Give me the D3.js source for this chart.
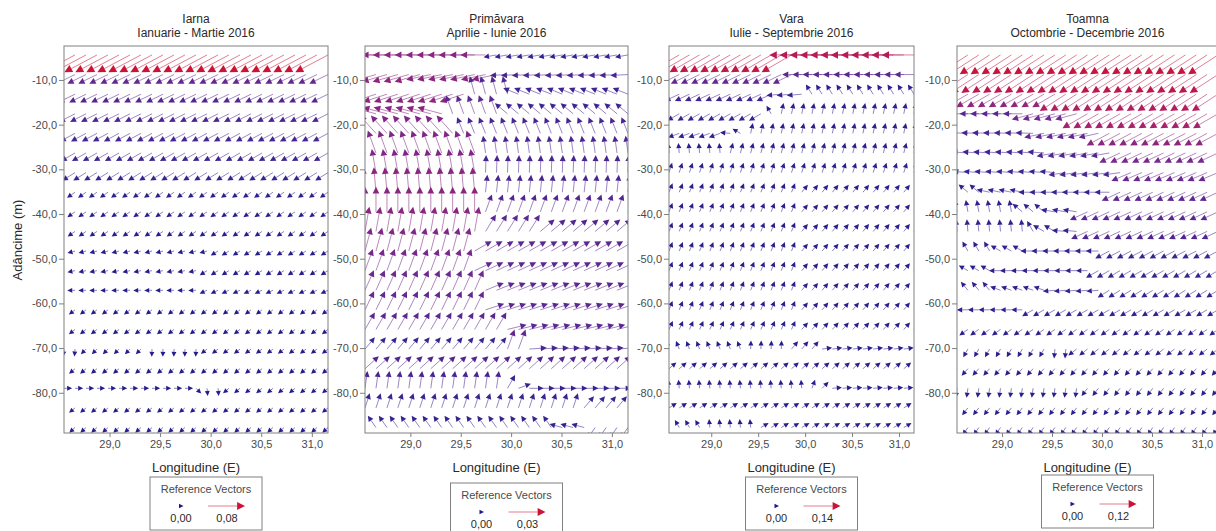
<!DOCTYPE html>
<html><head><meta charset="utf-8">
<script src="https://cdn.jsdelivr.net/npm/d3@7"></script>
<style>html,body{margin:0;padding:0;background:#fff}svg{display:block}text{font-family:"Liberation Sans",Arial,sans-serif}</style>
</head><body>
<svg id="chart" width="1216" height="531"></svg>
<script>
// ---------- DATA ----------
const lons = [28.550,28.659,28.768,28.876,28.985,29.094,29.203,29.311,29.420,29.529,29.638,29.746,29.855,29.964,30.073,30.181,30.290,30.399,30.508,30.616,30.725,30.834,30.943,31.051,31.160];
const depths = [-4.40,-8.79,-13.18,-17.57,-21.95,-26.34,-30.73,-35.12,-39.51,-43.89,-48.28,-52.67,-57.06,-61.44,-65.83,-70.22,-74.61,-79.00,-83.38,-87.77];
const yTickValues = [-10,-20,-30,-40,-50,-60,-70,-80];
const xTickValues = [29.0,29.5,30.0,30.5,31.0];
const seasonNames = ["Iarna","Primăvara","Vara","Toamna"];
const periodLabels = ["Ianuarie - Martie 2016","Aprilie - Iunie 2016","Iulie - Septembrie 2016","Octombrie - Decembrie 2016"];
const refMagnitudes = [0.08,0.03,0.14,0.12];

// each row (top to bottom): runs of [columns, direction (deg, 0=E, 90=N), speed]
const iarnaRuns = [
  [[25,208,0.080]],
  [[25,206,0.040]],
  [[25,206,0.035]],
  [[25,207,0.033]],
  [[25,208,0.031]],
  [[25,210,0.029]],
  [[25,212,0.026]],
  [[25,215,0.013]],
  [[25,215,0.012]],
  [[25,215,0.011]],
  [[14,195,0.008],[11,212,0.010]],
  [[13,192,0.008],[12,212,0.010]],
  [[13,182,0.008],[12,205,0.009]],
  [[25,218,0.008]],
  [[25,218,0.008]],
  [[2,265,0.007],[6,225,0.007],[5,268,0.008],[12,218,0.008]],
  [[25,220,0.008]],
  [[12,0,0.009],[1,315,0.007],[2,275,0.008],[10,220,0.008]],
  [[25,220,0.008]],
  [[25,222,0.008]]
];
const primavaraRuns = [
  [[12,180,0.019],[13,190,0.008]],
  [[6,196,0.020],[7,192,0.019],[12,183,0.012]],
  [[10,198,0.019],[4,105,0.013],[11,158,0.011]],
  [[8,165,0.019],[5,110,0.014],[12,140,0.011]],
  [[9,132,0.018],[16,112,0.012]],
  [[11,110,0.018],[14,98,0.012]],
  [[11,100,0.018],[14,88,0.012]],
  [[11,95,0.019],[14,84,0.012]],
  [[11,90,0.019],[14,70,0.013]],
  [[11,80,0.019],[5,58,0.014],[9,40,0.013]],
  [[10,75,0.018],[15,30,0.014]],
  [[10,70,0.017],[15,25,0.014]],
  [[11,66,0.016],[14,22,0.014]],
  [[11,64,0.015],[14,18,0.014]],
  [[13,60,0.014],[12,14,0.014]],
  [[13,50,0.010],[2,70,0.015],[10,4,0.012]],
  [[25,42,0.013]],
  [[13,82,0.012],[1,60,0.010],[1,20,0.008],[10,0,0.009]],
  [[20,72,0.010],[5,50,0.010]],
  [[18,125,0.009],[3,165,0.008],[4,235,0.008]]
];
const varaRuns = [
  [[13,210,0.130],[12,180,0.120]],
  [[13,206,0.070],[12,180,0.065]],
  [[11,205,0.050],[3,185,0.045],[11,122,0.030]],
  [[10,210,0.040],[1,120,0.020],[14,78,0.028]],
  [[6,200,0.032],[1,175,0.025],[1,150,0.020],[17,78,0.026]],
  [[6,95,0.024],[19,75,0.026]],
  [[25,72,0.025]],
  [[13,68,0.022],[12,50,0.022]],
  [[13,68,0.022],[12,50,0.022]],
  [[13,68,0.022],[12,50,0.022]],
  [[13,68,0.022],[12,50,0.022]],
  [[13,68,0.022],[12,50,0.022]],
  [[13,68,0.022],[12,50,0.022]],
  [[13,68,0.022],[12,50,0.022]],
  [[13,66,0.021],[12,48,0.021]],
  [[8,112,0.018],[4,88,0.018],[3,50,0.025],[10,8,0.024]],
  [[25,40,0.022]],
  [[14,95,0.018],[1,70,0.020],[1,45,0.020],[9,5,0.022]],
  [[25,32,0.020]],
  [[4,120,0.018],[5,95,0.017],[16,30,0.019]]
];
const toamnaRuns = [
  [[25,213,0.115]],
  [[25,213,0.108]],
  [[10,210,0.080],[15,213,0.098]],
  [[7,180,0.055],[5,195,0.065],[13,210,0.090]],
  [[8,178,0.048],[6,192,0.058],[11,208,0.078]],
  [[9,176,0.044],[6,190,0.052],[10,205,0.068]],
  [[10,175,0.040],[6,188,0.048],[9,203,0.062]],
  [[3,140,0.028],[4,168,0.032],[8,180,0.038],[10,205,0.058]],
  [[6,100,0.028],[3,140,0.030],[3,170,0.035],[13,205,0.055]],
  [[7,95,0.028],[1,120,0.028],[2,150,0.030],[2,175,0.035],[13,205,0.050]],
  [[4,120,0.024],[3,150,0.025],[7,180,0.030],[11,208,0.042]],
  [[4,150,0.022],[9,180,0.026],[12,210,0.036]],
  [[4,130,0.024],[5,160,0.024],[5,185,0.028],[11,212,0.034]],
  [[7,180,0.024],[18,210,0.030]],
  [[25,215,0.022]],
  [[9,240,0.018],[2,265,0.018],[14,218,0.022]],
  [[25,228,0.018]],
  [[12,262,0.019],[13,232,0.019]],
  [[25,232,0.018]],
  [[25,236,0.018]]
];
const seasonRuns = [iarnaRuns, primavaraRuns, varaRuns, toamnaRuns];

// ---------- LAYOUT ----------
const layout = [
  {left:64,  right:328,  legendTop:477},
  {left:365, right:628,  legendTop:483},
  {left:669, right:914,  legendTop:477},
  {left:957, right:1218, legendTop:475}
];
const frameTop = 46, frameBottom = 433;
const lonDomain = [28.55, 31.16];
const depthDomain = [-2.4, -89.0];
const fmt1 = v => v.toFixed(1).replace('.', ',');
const fmt2 = v => v.toFixed(2).replace('.', ',');
const colorScale = d3.scaleLinear()
  .domain([0, 0.35, 0.55, 0.75, 1])
  .range(["#1c1a8a", "#3b2491", "#72298f", "#a6226c", "#cc1236"])
  .clamp(true);
const lenScale = d3.scaleLinear().domain([0,1]).range([4.5,37]).clamp(true);

const svg = d3.select("#chart");

function expandRuns(runs) {
  const out = [];
  runs.forEach(([n, dir, sp]) => { for (let i = 0; i < n; i++) out.push({dir, sp}); });
  return out.slice(0, lons.length);
}

function drawArrow(g, x0, y0, dirDeg, frac) {
  const L = lenScale(frac);
  const a = dirDeg * Math.PI / 180;
  const ux = Math.cos(a), uy = -Math.sin(a);
  const hx = x0 + ux * L, hy = y0 + uy * L;
  const hl = Math.min(L, 4.2 + 0.1 * L);
  const hw = hl * 0.5;
  const bx = hx - ux * hl, by = hy - uy * hl;
  const px = -uy, py = ux;
  const col = colorScale(frac);
  if (L - hl > 0.3) {
    g.append("line").attr("x1", x0).attr("y1", y0).attr("x2", bx).attr("y2", by)
      .attr("stroke", col).attr("stroke-opacity", 0.55).attr("stroke-width", 1);
  }
  g.append("path")
    .attr("d", `M${hx},${hy}L${bx + px*hw},${by + py*hw}L${bx - px*hw},${by - py*hw}Z`)
    .attr("fill", col);
}

layout.forEach((lay, p) => {
  const x = d3.scaleLinear().domain(lonDomain).range([lay.left, lay.right]);
  const y = d3.scaleLinear().domain(depthDomain).range([frameTop, frameBottom]);
  const g = svg.append("g");
  const ref = refMagnitudes[p];

  const clipId = "clip" + p;
  svg.append("clipPath").attr("id", clipId).append("rect")
    .attr("x", lay.left).attr("y", frameTop)
    .attr("width", lay.right - lay.left).attr("height", frameBottom - frameTop);

  const vg = g.append("g").attr("clip-path", `url(#${clipId})`);
  seasonRuns[p].forEach((runs, r) => {
    const row = expandRuns(runs);
    row.forEach((v, c) => {
      drawArrow(vg, x(lons[c]), y(depths[r]), v.dir, v.sp / ref);
    });
  });

  // frame
  g.append("rect").attr("x", lay.left).attr("y", frameTop)
    .attr("width", lay.right - lay.left).attr("height", frameBottom - frameTop)
    .attr("fill", "none").attr("stroke", "#808080").attr("stroke-width", 1);

  // y axis
  const yAxis = d3.axisLeft(y).tickValues(yTickValues).tickFormat(fmt1).tickSize(5).tickPadding(2);
  const ya = g.append("g").attr("transform", `translate(${lay.left},0)`).call(yAxis);
  ya.select(".domain").remove();
  ya.selectAll("line").attr("stroke", "#808080");
  ya.selectAll("text").attr("fill", "#4a4a4a").style("font-size", "11px").style("font-family", '"Liberation Sans",Arial,sans-serif');

  // x axis
  const xAxis = d3.axisBottom(x).tickValues(xTickValues).tickFormat(fmt1).tickSize(4).tickPadding(3);
  const xa = g.append("g").attr("transform", `translate(0,${frameBottom})`).call(xAxis);
  xa.select(".domain").remove();
  xa.selectAll("line").attr("stroke", "#808080");
  xa.selectAll("text").attr("fill", "#4a4a4a").style("font-size", "11px").style("font-family", '"Liberation Sans",Arial,sans-serif');

  const cx = (lay.left + lay.right) / 2;
  // titles
  g.append("text").attr("x", cx).attr("y", 23).attr("text-anchor", "middle")
    .style("font-size", "12px").attr("fill", "#2a2a2a").text(seasonNames[p]);
  g.append("text").attr("x", cx).attr("y", 37).attr("text-anchor", "middle")
    .style("font-size", "12px").attr("fill", "#2a2a2a").text(periodLabels[p]);

  // x title
  g.append("text").attr("x", cx).attr("y", 472).attr("text-anchor", "middle")
    .style("font-size", "13px").attr("fill", "#2a2a2a").text("Longitudine (E)");

  // legend
  const bl = cx - 46, bt = lay.legendTop, bw = 112, bh = 53;
  const lg = g.append("g");
  lg.append("rect").attr("x", bl).attr("y", bt).attr("width", bw).attr("height", bh)
    .attr("fill", "#fff").attr("stroke", "#808080").attr("stroke-width", 1);
  lg.append("text").attr("x", bl + bw/2).attr("y", bt + 16).attr("text-anchor", "middle")
    .style("font-size", "11px").attr("fill", "#4a4a4a").text("Reference Vectors");
  drawArrow(lg, bl + 29, bt + 29, 0, 0);
  drawArrow(lg, bl + 58, bt + 29, 0, 1);
  lg.append("text").attr("x", bl + 31).attr("y", bt + 45).attr("text-anchor", "middle")
    .style("font-size", "11px").attr("fill", "#2a2a2a").text(fmt2(0));
  lg.append("text").attr("x", bl + 77).attr("y", bt + 45).attr("text-anchor", "middle")
    .style("font-size", "11px").attr("fill", "#2a2a2a").text(fmt2(ref));
});

// y-axis title
svg.append("text").attr("transform", "translate(22,240) rotate(-90)")
  .attr("text-anchor", "middle").style("font-size", "13px").attr("fill", "#2a2a2a")
  .text("Adâncime (m)");
</script>
</body></html>
